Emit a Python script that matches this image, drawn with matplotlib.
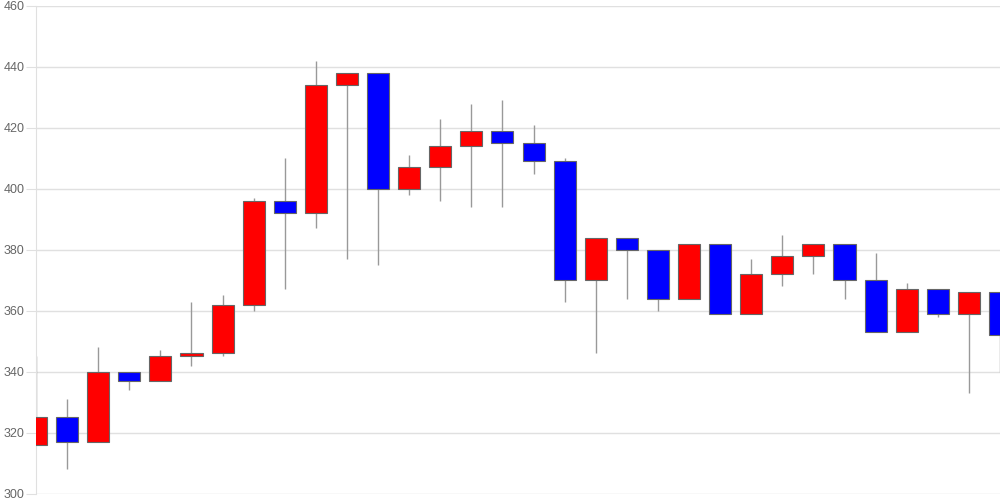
import matplotlib
matplotlib.use("Agg")
import matplotlib.pyplot as plt
from matplotlib.patches import Rectangle

# daily OHLC
opens = [316, 325, 317, 340, 337, 345, 346, 362, 396, 392, 434, 438, 400, 407, 414, 419,
         415, 409, 370, 384, 380, 364, 382, 359, 372, 378, 382, 370, 353, 367, 359, 366]
highs = [345, 331, 348, 340, 347, 363, 365, 397, 410, 442, 438, 438, 411, 423, 428, 429,
         421, 410, 384, 384, 380, 382, 382, 377, 385, 382, 382, 379, 369, 367, 366, 366]
lows = [316, 308, 317, 334, 337, 342, 345, 360, 367, 387, 377, 375, 398, 396, 394, 394,
        405, 363, 346, 364, 360, 364, 359, 359, 368, 372, 364, 353, 353, 358, 333, 340]
closes = [325, 317, 340, 337, 345, 346, 362, 396, 392, 434, 438, 400, 407, 414, 419, 415,
          409, 370, 384, 380, 364, 382, 359, 372, 378, 382, 370, 353, 367, 359, 366, 352]

y_ticks = [300, 320, 340, 360, 380, 400, 420, 440, 460]

plt.rcParams["font.family"] = ["Liberation Sans", "DejaVu Sans"]

fig = plt.figure(figsize=(10, 5), dpi=100)
ax = fig.add_axes([0.036, 0.013, 0.964, 0.975])

width = 0.71
for i, (o, h, l, c) in enumerate(zip(opens, highs, lows, closes)):
    ax.vlines(i, l, h, color="#999999", linewidth=1, zorder=2)
    color = "#ff0000" if c >= o else "#0000ff"
    lo, hi = min(o, c), max(o, c)
    ax.add_patch(Rectangle((i - width / 2, lo), width, max(hi - lo, 0.4),
                           facecolor=color, edgecolor="#666666",
                           linewidth=0.8, zorder=3))

ax.set_xlim(0, len(opens) - 1)
ax.set_ylim(300, 460)
ax.set_yticks(y_ticks)
ax.set_xticks([])
ax.grid(axis="y", color="#e0e0e0", linewidth=1, zorder=0)
ax.tick_params(axis="y", length=7.5, color="#e0e0e0", labelcolor="#666666",
               labelsize=9, pad=1)
for side in ["top", "right", "bottom"]:
    ax.spines[side].set_visible(False)
ax.spines["left"].set_color("#e0e0e0")

fig.savefig("out.png", dpi=100)
